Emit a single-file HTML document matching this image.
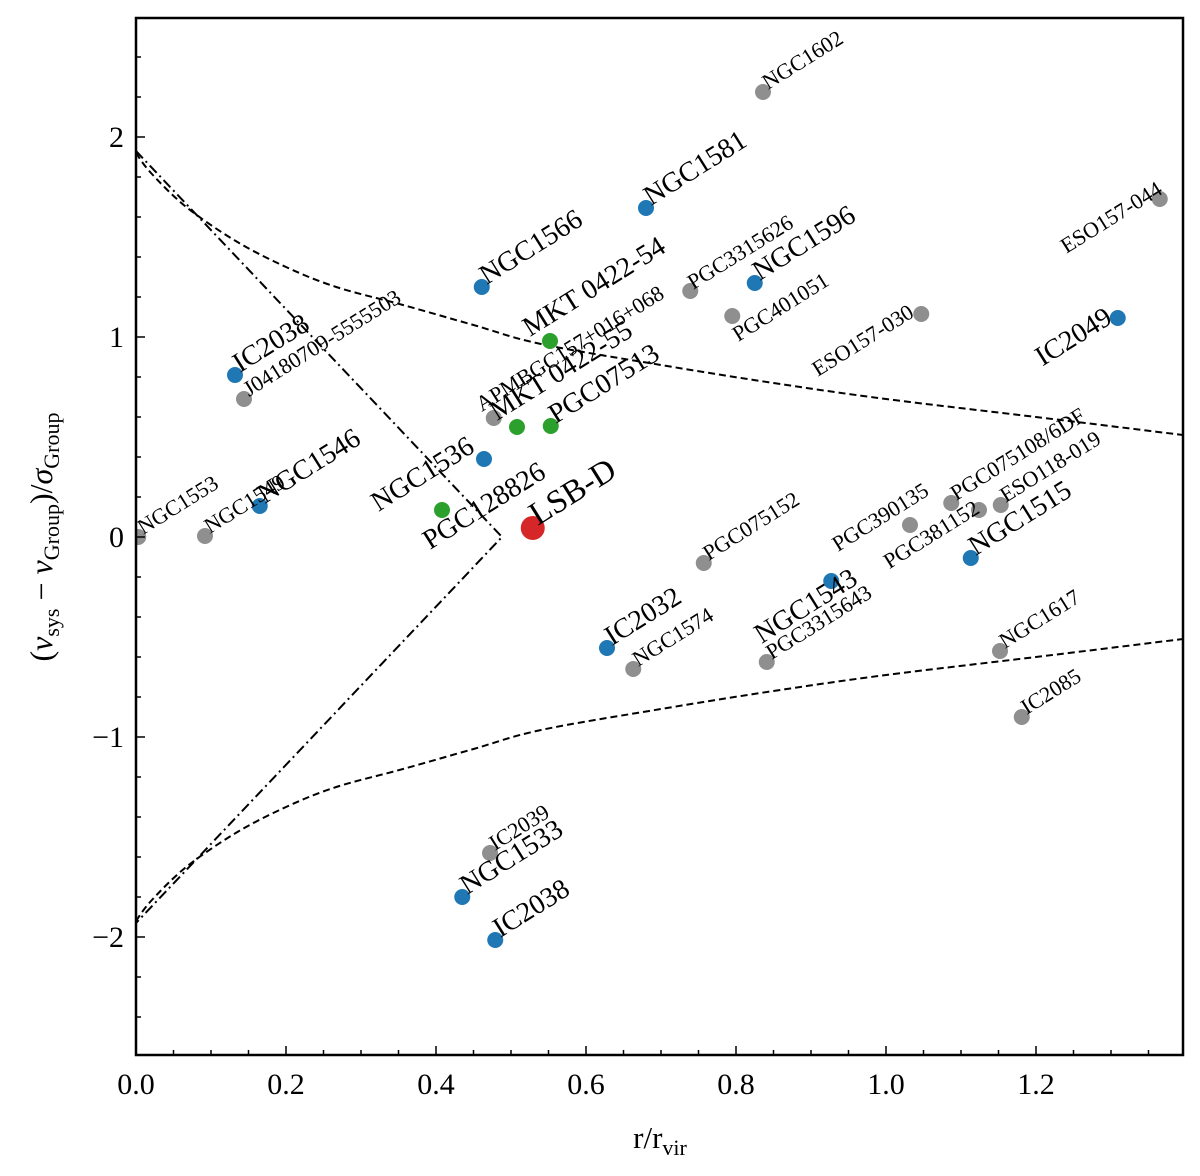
<!DOCTYPE html>
<html><head><meta charset="utf-8"><style>
html,body{margin:0;padding:0;background:#fff;}
svg{display:block;font-family:"Liberation Serif",serif;}
</style></head><body>
<svg id="chart" width="1200" height="1176" viewBox="0 0 1200 1176" xmlns="http://www.w3.org/2000/svg">
<rect x="0" y="0" width="1200" height="1176" fill="#fff"/>
<g id="marks"></g>
<g id="axes"></g>
<text x="660" y="1148" font-size="31" text-anchor="middle">r/r<tspan font-size="22" dy="7">vir</tspan></text>
<text transform="translate(52,537) rotate(-90)" font-size="32" text-anchor="middle">(<tspan font-style="italic">v</tspan><tspan font-size="22" dy="7">sys</tspan><tspan dy="-7"> − </tspan><tspan font-style="italic">v</tspan><tspan font-size="22" dy="7">Group</tspan><tspan dy="-7">)/</tspan><tspan font-style="italic">σ</tspan><tspan font-size="22" dy="7">Group</tspan></text>
</svg>
<script>
const names = ["NGC1602","PGC3315626","PGC401051","ESO157-030","ESO157-044","J04180709-5555503","APMBGC157+016+068","NGC1553","NGC1549","PGC075152","PGC390135","PGC075108/6DF","PGC381152","ESO118-019","NGC1574","PGC3315643","NGC1617","IC2085","IC2039",
"NGC1581","NGC1566","NGC1596","IC2049","IC2038","NGC1546","NGC1536","NGC1543","NGC1515","IC2032","NGC1533","IC2038",
"MKT 0422-54","MKT 0422-55","PGC07513","PGC128826","LSB-D"];
const rValues = [0.836,0.739,0.795,1.047,1.365,0.144,0.477,0.003,0.092,0.757,1.032,1.087,1.124,1.153,0.663,0.841,1.152,1.181,0.472,
0.68,0.461,0.825,1.309,0.132,0.165,0.464,0.927,1.113,0.628,0.435,0.479,
0.552,0.508,0.553,0.408,0.529];
const vValues = [2.225,1.23,1.105,1.115,1.69,0.69,0.595,0,0.005,-0.13,0.06,0.17,0.135,0.16,-0.66,-0.625,-0.57,-0.9,-1.58,
1.645,1.25,1.27,1.095,0.81,0.155,0.39,-0.22,-0.105,-0.555,-1.8,-2.015,
0.98,0.55,0.555,0.135,0.045];
const groups = ["g","g","g","g","g","g","g","g","g","g","g","g","g","g","g","g","g","g","g",
"b","b","b","b","b","b","b","b","b","b","b","b",
"gr","gr","gr","gr","r"];
const curveR = [0,0.02,0.067,0.133,0.2,0.267,0.356,0.45,0.54,0.7,0.85,1.0,1.2,1.396];
const curveV = [1.92,1.82,1.65,1.48,1.35,1.25,1.16,1.06,0.965,0.86,0.77,0.69,0.60,0.51];
const wedgeR = [0,0.488,0];
const wedgeV = [1.93,0,-1.93];
const xTicks = [0,0.2,0.4,0.6,0.8,1.0,1.2];
const xTickLabels = ["0.0","0.2","0.4","0.6","0.8","1.0","1.2"];
const yTicks = [-2,-1,0,1,2];
const yTickLabels = ["−2","−1","0","1","2"];

const L=136,T=18,R=1183,B=1055;
const sx=v=>L+v*750, sy=v=>537-v*200;
const NS="http://www.w3.org/2000/svg";
function mk(tag,attrs,parent){const e=document.createElementNS(NS,tag);for(const k in attrs)e.setAttribute(k,attrs[k]);parent.appendChild(e);return e;}
const marks=document.getElementById('marks'), axes=document.getElementById('axes');
const colors={g:"#8f8f8f",b:"#1f77b4",gr:"#2ca02c",r:"#d62728"};
const lab={"PGC401051":[6,26,"start"],"ESO157-030":[-6,2,"end"],"ESO157-044":[4,-6,"end"],"IC2049":[-4,4,"end"],
"APMBGC157+016+068":[-12,-6,"start"],"MKT 0422-54":[-20,-4,"start"],"MKT 0422-55":[-20,-6,"start"],"NGC1536":[-8,-8,"end"],
"PGC128826":[-12,40,"start"],"PGC390135":[-72,27,"start"],"PGC381152":[2,2,"end"],"NGC1543":[28,2,"end"],"PGC3315626":[3,-1,"start"]};

const clip=mk('clipPath',{id:'pc'},marks);mk('rect',{x:L,y:T,width:R-L,height:B-T},clip);
const cg=mk('g',{'clip-path':'url(#pc)'},marks);
function smooth(xs,ys){let d="M"+xs[0]+","+ys[0];for(let i=0;i<xs.length-1;i++){const x0=xs[Math.max(i-1,0)],y0=ys[Math.max(i-1,0)],x1=xs[i],y1=ys[i],x2=xs[i+1],y2=ys[i+1],x3=xs[Math.min(i+2,xs.length-1)],y3=ys[Math.min(i+2,xs.length-1)];d+=`C${x1+(x2-x0)/6},${y1+(y2-y0)/6} ${x2-(x3-x1)/6},${y2-(y3-y1)/6} ${x2},${y2}`;}return d;}
const px=curveR.map(sx);
const up=smooth(px,curveV.map(v=>sy(v))), lo=smooth(px,curveV.map(v=>sy(-v)));
const p1=mk('path',{d:up,fill:"none",stroke:"#000","stroke-width":2,"stroke-dasharray":"7,4"},cg);


const p2=mk('path',{d:lo,fill:"none",stroke:"#000","stroke-width":2,"stroke-dasharray":"7,4"},cg);


let wd="";wedgeR.forEach((r,i)=>{wd+=(i?"L":"M")+sx(r)+","+sy(wedgeV[i]);});
const p3=mk('path',{d:wd,fill:"none",stroke:"#000","stroke-width":2,"stroke-dasharray":"10,4,2,4"},cg);



names.forEach((n,i)=>{
  const x=sx(rValues[i]),y=sy(vValues[i]),g=groups[i];
  const c=mk('circle',{cx:x,cy:y,r:g==="r"?12:8,fill:colors[g]},cg);
  
  
  const o=lab[n]||[5,-2,"start"];
  const fs=g==="r"?33:(g==="g"?22:28);
  const t=mk('text',{x:x+o[0],y:y+o[1],"font-size":fs,"text-anchor":o[2],transform:`rotate(-32 ${x+o[0]} ${y+o[1]})`},marks);
  t.textContent=n;
  
  
});

const fr=mk('rect',{x:L,y:T,width:R-L,height:B-T,fill:"none",stroke:"#000","stroke-width":2.5},axes);


for(let v=0;v<=1.396;v+=0.05){const x=sx(v);const maj=Math.abs(v/0.2-Math.round(v/0.2))<1e-6;mk('line',{x1:x,x2:x,y1:B,y2:B-(maj?9:5),stroke:"#000","stroke-width":1.5},axes);}
for(let v=-2.6;v<=2.6;v+=0.2){const y=sy(v);if(y<T||y>B)continue;const maj=Math.abs(v-Math.round(v))<1e-6;mk('line',{x1:L,x2:L+(maj?9:5),y1:y,y2:y,stroke:"#000","stroke-width":1.5},axes);}
xTicks.forEach((v,i)=>{const t=mk('text',{x:sx(v),y:1094,"font-size":30,"text-anchor":"middle"},axes);t.textContent=xTickLabels[i];

});
yTicks.forEach((v,i)=>{const t=mk('text',{x:124,y:sy(v)+10,"font-size":30,"text-anchor":"end"},axes);t.textContent=yTickLabels[i];

});
</script>
</body></html>
